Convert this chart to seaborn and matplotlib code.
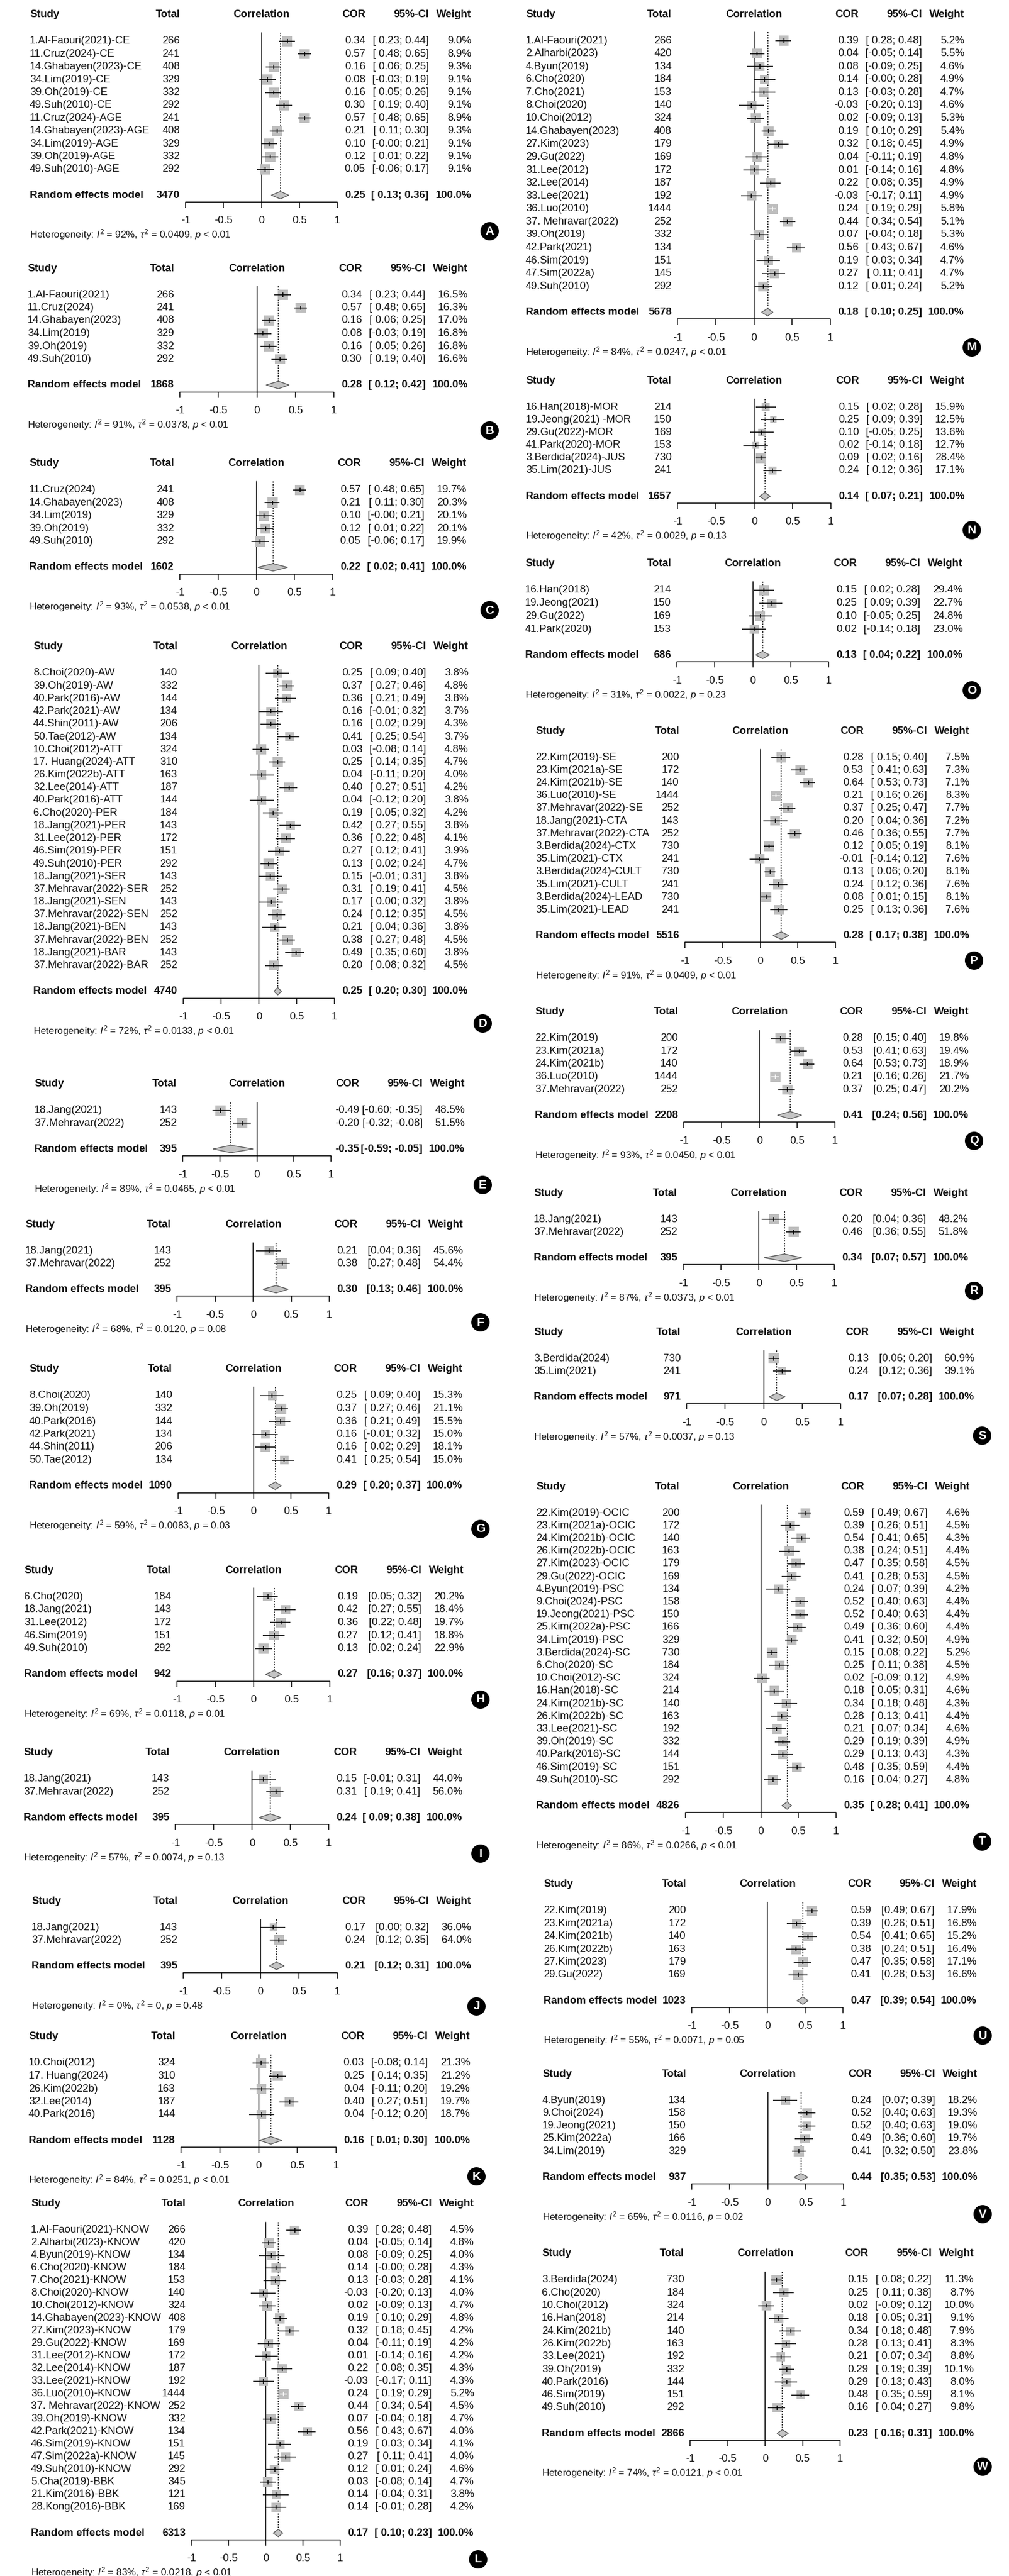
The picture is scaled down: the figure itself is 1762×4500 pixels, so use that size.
import numpy as np
import pandas as pd
import matplotlib
matplotlib.use("Agg")
import matplotlib.pyplot as plt
import seaborn as sns
from matplotlib.transforms import blended_transform_factory, IdentityTransform
from matplotlib.patches import Polygon, Circle

# ----------------------------- DATA -----------------------------
A_study = ["1.Al-Faouri(2021)-CE", "11.Cruz(2024)-CE", "14.Ghabayen(2023)-CE", "34.Lim(2019)-CE",
           "39.Oh(2019)-CE", "49.Suh(2010)-CE", "11.Cruz(2024)-AGE", "14.Ghabayen(2023)-AGE",
           "34.Lim(2019)-AGE", "39.Oh(2019)-AGE", "49.Suh(2010)-AGE"]
A_total = [266, 241, 408, 329, 332, 292, 241, 408, 329, 332, 292]
A_cor = [0.34, 0.57, 0.16, 0.08, 0.16, 0.30, 0.57, 0.21, 0.10, 0.12, 0.05]
A_lo = [0.23, 0.48, 0.06, -0.03, 0.05, 0.19, 0.48, 0.11, -0.004, 0.01, -0.06]
A_hi = [0.44, 0.65, 0.25, 0.19, 0.26, 0.40, 0.65, 0.30, 0.21, 0.22, 0.17]
A_weight = [9.0, 8.9, 9.3, 9.1, 9.1, 9.1, 8.9, 9.3, 9.1, 9.1, 9.1]
A_model = [3470, 0.25, 0.13, 0.36]
A_het = [92, 0.0409, "<", 0.01]

B_study = ["1.Al-Faouri(2021)", "11.Cruz(2024)", "14.Ghabayen(2023)", "34.Lim(2019)", "39.Oh(2019)", "49.Suh(2010)"]
B_total = [266, 241, 408, 329, 332, 292]
B_cor = [0.34, 0.57, 0.16, 0.08, 0.16, 0.30]
B_lo = [0.23, 0.48, 0.06, -0.03, 0.05, 0.19]
B_hi = [0.44, 0.65, 0.25, 0.19, 0.26, 0.40]
B_weight = [16.5, 16.3, 17.0, 16.8, 16.8, 16.6]
B_model = [1868, 0.28, 0.12, 0.42]
B_het = [91, 0.0378, "<", 0.01]

C_study = ["11.Cruz(2024)", "14.Ghabayen(2023)", "34.Lim(2019)", "39.Oh(2019)", "49.Suh(2010)"]
C_total = [241, 408, 329, 332, 292]
C_cor = [0.57, 0.21, 0.10, 0.12, 0.05]
C_lo = [0.48, 0.11, -0.004, 0.01, -0.06]
C_hi = [0.65, 0.30, 0.21, 0.22, 0.17]
C_weight = [19.7, 20.3, 20.1, 20.1, 19.9]
C_model = [1602, 0.22, 0.02, 0.41]
C_het = [93, 0.0538, "<", 0.01]

D_study = ["8.Choi(2020)-AW", "39.Oh(2019)-AW", "40.Park(2016)-AW", "42.Park(2021)-AW", "44.Shin(2011)-AW",
           "50.Tae(2012)-AW", "10.Choi(2012)-ATT", "17. Huang(2024)-ATT", "26.Kim(2022b)-ATT", "32.Lee(2014)-ATT",
           "40.Park(2016)-ATT", "6.Cho(2020)-PER", "18.Jang(2021)-PER", "31.Lee(2012)-PER", "46.Sim(2019)-PER",
           "49.Suh(2010)-PER", "18.Jang(2021)-SER", "37.Mehravar(2022)-SER", "18.Jang(2021)-SEN",
           "37.Mehravar(2022)-SEN", "18.Jang(2021)-BEN", "37.Mehravar(2022)-BEN", "18.Jang(2021)-BAR",
           "37.Mehravar(2022)-BAR"]
D_total = [140, 332, 144, 134, 206, 134, 324, 310, 163, 187, 144, 184, 143, 172, 151, 292, 143, 252, 143, 252,
           143, 252, 143, 252]
D_cor = [0.25, 0.37, 0.36, 0.16, 0.16, 0.41, 0.03, 0.25, 0.04, 0.40, 0.04, 0.19, 0.42, 0.36, 0.27, 0.13, 0.15,
         0.31, 0.17, 0.24, 0.21, 0.38, 0.49, 0.20]
D_lo = [0.09, 0.27, 0.21, -0.01, 0.02, 0.25, -0.08, 0.14, -0.11, 0.27, -0.12, 0.05, 0.27, 0.22, 0.12, 0.02, -0.01,
        0.19, 0.00, 0.12, 0.04, 0.27, 0.35, 0.08]
D_hi = [0.40, 0.46, 0.49, 0.32, 0.29, 0.54, 0.14, 0.35, 0.20, 0.51, 0.20, 0.32, 0.55, 0.48, 0.41, 0.24, 0.31,
        0.41, 0.32, 0.35, 0.36, 0.48, 0.60, 0.32]
D_weight = [3.8, 4.8, 3.8, 3.7, 4.3, 3.7, 4.8, 4.7, 4.0, 4.2, 3.8, 4.2, 3.8, 4.1, 3.9, 4.7, 3.8, 4.5, 3.8, 4.5,
            3.8, 4.5, 3.8, 4.5]
D_model = [4740, 0.25, 0.20, 0.30]
D_het = [72, 0.0133, "<", 0.01]

E_study = ["18.Jang(2021)", "37.Mehravar(2022)"]
E_total = [143, 252]
E_cor = [-0.49, -0.20]
E_lo = [-0.60, -0.32]
E_hi = [-0.35, -0.08]
E_weight = [48.5, 51.5]
E_model = [395, -0.35, -0.59, -0.05]
E_het = [89, 0.0465, "<", 0.01]

F_study = ["18.Jang(2021)", "37.Mehravar(2022)"]
F_total = [143, 252]
F_cor = [0.21, 0.38]
F_lo = [0.04, 0.27]
F_hi = [0.36, 0.48]
F_weight = [45.6, 54.4]
F_model = [395, 0.30, 0.13, 0.46]
F_het = [68, 0.0120, "=", 0.08]

G_study = ["8.Choi(2020)", "39.Oh(2019)", "40.Park(2016)", "42.Park(2021)", "44.Shin(2011)", "50.Tae(2012)"]
G_total = [140, 332, 144, 134, 206, 134]
G_cor = [0.25, 0.37, 0.36, 0.16, 0.16, 0.41]
G_lo = [0.09, 0.27, 0.21, -0.01, 0.02, 0.25]
G_hi = [0.40, 0.46, 0.49, 0.32, 0.29, 0.54]
G_weight = [15.3, 21.1, 15.5, 15.0, 18.1, 15.0]
G_model = [1090, 0.29, 0.20, 0.37]
G_het = [59, 0.0083, "=", 0.03]

H_study = ["6.Cho(2020)", "18.Jang(2021)", "31.Lee(2012)", "46.Sim(2019)", "49.Suh(2010)"]
H_total = [184, 143, 172, 151, 292]
H_cor = [0.19, 0.42, 0.36, 0.27, 0.13]
H_lo = [0.05, 0.27, 0.22, 0.12, 0.02]
H_hi = [0.32, 0.55, 0.48, 0.41, 0.24]
H_weight = [20.2, 18.4, 19.7, 18.8, 22.9]
H_model = [942, 0.27, 0.16, 0.37]
H_het = [69, 0.0118, "=", 0.01]

I_study = ["18.Jang(2021)", "37.Mehravar(2022)"]
I_total = [143, 252]
I_cor = [0.15, 0.31]
I_lo = [-0.01, 0.19]
I_hi = [0.31, 0.41]
I_weight = [44.0, 56.0]
I_model = [395, 0.24, 0.09, 0.38]
I_het = [57, 0.0074, "=", 0.13]

J_study = ["18.Jang(2021)", "37.Mehravar(2022)"]
J_total = [143, 252]
J_cor = [0.17, 0.24]
J_lo = [0.00, 0.12]
J_hi = [0.32, 0.35]
J_weight = [36.0, 64.0]
J_model = [395, 0.21, 0.12, 0.31]
J_het = [0, 0.0, "=", 0.48]

K_study = ["10.Choi(2012)", "17. Huang(2024)", "26.Kim(2022b)", "32.Lee(2014)", "40.Park(2016)"]
K_total = [324, 310, 163, 187, 144]
K_cor = [0.03, 0.25, 0.04, 0.40, 0.04]
K_lo = [-0.08, 0.14, -0.11, 0.27, -0.12]
K_hi = [0.14, 0.35, 0.20, 0.51, 0.20]
K_weight = [21.3, 21.2, 19.2, 19.7, 18.7]
K_model = [1128, 0.16, 0.01, 0.30]
K_het = [84, 0.0251, "<", 0.01]

L_study = ["1.Al-Faouri(2021)-KNOW", "2.Alharbi(2023)-KNOW", "4.Byun(2019)-KNOW", "6.Cho(2020)-KNOW",
           "7.Cho(2021)-KNOW", "8.Choi(2020)-KNOW", "10.Choi(2012)-KNOW", "14.Ghabayen(2023)-KNOW",
           "27.Kim(2023)-KNOW", "29.Gu(2022)-KNOW", "31.Lee(2012)-KNOW", "32.Lee(2014)-KNOW",
           "33.Lee(2021)-KNOW", "36.Luo(2010)-KNOW", "37. Mehravar(2022)-KNOW", "39.Oh(2019)-KNOW",
           "42.Park(2021)-KNOW", "46.Sim(2019)-KNOW", "47.Sim(2022a)-KNOW", "49.Suh(2010)-KNOW",
           "5.Cha(2019)-BBK", "21.Kim(2016)-BBK", "28.Kong(2016)-BBK"]
L_total = [266, 420, 134, 184, 153, 140, 324, 408, 179, 169, 172, 187, 192, 1444, 252, 332, 134, 151, 145, 292,
           345, 121, 169]
L_cor = [0.39, 0.04, 0.08, 0.14, 0.13, -0.03, 0.02, 0.19, 0.32, 0.04, 0.01, 0.22, -0.03, 0.24, 0.44, 0.07, 0.56,
         0.19, 0.27, 0.12, 0.03, 0.14, 0.14]
L_lo = [0.28, -0.05, -0.09, -0.004, -0.03, -0.20, -0.09, 0.10, 0.18, -0.11, -0.14, 0.08, -0.17, 0.19, 0.34, -0.04,
        0.43, 0.03, 0.11, 0.01, -0.08, -0.04, -0.01]
L_hi = [0.48, 0.14, 0.25, 0.28, 0.28, 0.13, 0.13, 0.29, 0.45, 0.19, 0.16, 0.35, 0.11, 0.29, 0.54, 0.18, 0.67,
        0.34, 0.41, 0.24, 0.14, 0.31, 0.28]
L_weight = [4.5, 4.8, 4.0, 4.3, 4.1, 4.0, 4.7, 4.8, 4.2, 4.2, 4.2, 4.3, 4.3, 5.2, 4.5, 4.7, 4.0, 4.1, 4.0, 4.6,
            4.7, 3.8, 4.2]
L_model = [6313, 0.17, 0.10, 0.23]
L_het = [83, 0.0218, "<", 0.01]

M_study = ["1.Al-Faouri(2021)", "2.Alharbi(2023)", "4.Byun(2019)", "6.Cho(2020)", "7.Cho(2021)", "8.Choi(2020)",
           "10.Choi(2012)", "14.Ghabayen(2023)", "27.Kim(2023)", "29.Gu(2022)", "31.Lee(2012)", "32.Lee(2014)",
           "33.Lee(2021)", "36.Luo(2010)", "37. Mehravar(2022)", "39.Oh(2019)", "42.Park(2021)", "46.Sim(2019)",
           "47.Sim(2022a)", "49.Suh(2010)"]
M_total = [266, 420, 134, 184, 153, 140, 324, 408, 179, 169, 172, 187, 192, 1444, 252, 332, 134, 151, 145, 292]
M_cor = [0.39, 0.04, 0.08, 0.14, 0.13, -0.03, 0.02, 0.19, 0.32, 0.04, 0.01, 0.22, -0.03, 0.24, 0.44, 0.07, 0.56,
         0.19, 0.27, 0.12]
M_lo = [0.28, -0.05, -0.09, -0.004, -0.03, -0.20, -0.09, 0.10, 0.18, -0.11, -0.14, 0.08, -0.17, 0.19, 0.34, -0.04,
        0.43, 0.03, 0.11, 0.01]
M_hi = [0.48, 0.14, 0.25, 0.28, 0.28, 0.13, 0.13, 0.29, 0.45, 0.19, 0.16, 0.35, 0.11, 0.29, 0.54, 0.18, 0.67,
        0.34, 0.41, 0.24]
M_weight = [5.2, 5.5, 4.6, 4.9, 4.7, 4.6, 5.3, 5.4, 4.9, 4.8, 4.8, 4.9, 4.9, 5.8, 5.1, 5.3, 4.6, 4.7, 4.7, 5.2]
M_model = [5678, 0.18, 0.10, 0.25]
M_het = [84, 0.0247, "<", 0.01]

N_study = ["16.Han(2018)-MOR", "19.Jeong(2021) -MOR", "29.Gu(2022)-MOR", "41.Park(2020)-MOR",
           "3.Berdida(2024)-JUS", "35.Lim(2021)-JUS"]
N_total = [214, 150, 169, 153, 730, 241]
N_cor = [0.15, 0.25, 0.10, 0.02, 0.09, 0.24]
N_lo = [0.02, 0.09, -0.05, -0.14, 0.02, 0.12]
N_hi = [0.28, 0.39, 0.25, 0.18, 0.16, 0.36]
N_weight = [15.9, 12.5, 13.6, 12.7, 28.4, 17.1]
N_model = [1657, 0.14, 0.07, 0.21]
N_het = [42, 0.0029, "=", 0.13]

O_study = ["16.Han(2018)", "19.Jeong(2021)", "29.Gu(2022)", "41.Park(2020)"]
O_total = [214, 150, 169, 153]
O_cor = [0.15, 0.25, 0.10, 0.02]
O_lo = [0.02, 0.09, -0.05, -0.14]
O_hi = [0.28, 0.39, 0.25, 0.18]
O_weight = [29.4, 22.7, 24.8, 23.0]
O_model = [686, 0.13, 0.04, 0.22]
O_het = [31, 0.0022, "=", 0.23]

P_study = ["22.Kim(2019)-SE", "23.Kim(2021a)-SE", "24.Kim(2021b)-SE", "36.Luo(2010)-SE", "37.Mehravar(2022)-SE",
           "18.Jang(2021)-CTA", "37.Mehravar(2022)-CTA", "3.Berdida(2024)-CTX", "35.Lim(2021)-CTX",
           "3.Berdida(2024)-CULT", "35.Lim(2021)-CULT", "3.Berdida(2024)-LEAD", "35.Lim(2021)-LEAD"]
P_total = [200, 172, 140, 1444, 252, 143, 252, 730, 241, 730, 241, 730, 241]
P_cor = [0.28, 0.53, 0.64, 0.21, 0.37, 0.20, 0.46, 0.12, -0.01, 0.13, 0.24, 0.08, 0.25]
P_lo = [0.15, 0.41, 0.53, 0.16, 0.25, 0.04, 0.36, 0.05, -0.14, 0.06, 0.12, 0.01, 0.13]
P_hi = [0.40, 0.63, 0.73, 0.26, 0.47, 0.36, 0.55, 0.19, 0.12, 0.20, 0.36, 0.15, 0.36]
P_weight = [7.5, 7.3, 7.1, 8.3, 7.7, 7.2, 7.7, 8.1, 7.6, 8.1, 7.6, 8.1, 7.6]
P_model = [5516, 0.28, 0.17, 0.38]
P_het = [91, 0.0409, "<", 0.01]

Q_study = ["22.Kim(2019)", "23.Kim(2021a)", "24.Kim(2021b)", "36.Luo(2010)", "37.Mehravar(2022)"]
Q_total = [200, 172, 140, 1444, 252]
Q_cor = [0.28, 0.53, 0.64, 0.21, 0.37]
Q_lo = [0.15, 0.41, 0.53, 0.16, 0.25]
Q_hi = [0.40, 0.63, 0.73, 0.26, 0.47]
Q_weight = [19.8, 19.4, 18.9, 21.7, 20.2]
Q_model = [2208, 0.41, 0.24, 0.56]
Q_het = [93, 0.0450, "<", 0.01]

R_study = ["18.Jang(2021)", "37.Mehravar(2022)"]
R_total = [143, 252]
R_cor = [0.20, 0.46]
R_lo = [0.04, 0.36]
R_hi = [0.36, 0.55]
R_weight = [48.2, 51.8]
R_model = [395, 0.34, 0.07, 0.57]
R_het = [87, 0.0373, "<", 0.01]

S_study = ["3.Berdida(2024)", "35.Lim(2021)"]
S_total = [730, 241]
S_cor = [0.13, 0.24]
S_lo = [0.06, 0.12]
S_hi = [0.20, 0.36]
S_weight = [60.9, 39.1]
S_model = [971, 0.17, 0.07, 0.28]
S_het = [57, 0.0037, "=", 0.13]

T_study = ["22.Kim(2019)-OCIC", "23.Kim(2021a)-OCIC", "24.Kim(2021b)-OCIC", "26.Kim(2022b)-OCIC",
           "27.Kim(2023)-OCIC", "29.Gu(2022)-OCIC", "4.Byun(2019)-PSC", "9.Choi(2024)-PSC", "19.Jeong(2021)-PSC",
           "25.Kim(2022a)-PSC", "34.Lim(2019)-PSC", "3.Berdida(2024)-SC", "6.Cho(2020)-SC", "10.Choi(2012)-SC",
           "16.Han(2018)-SC", "24.Kim(2021b)-SC", "26.Kim(2022b)-SC", "33.Lee(2021)-SC", "39.Oh(2019)-SC",
           "40.Park(2016)-SC", "46.Sim(2019)-SC", "49.Suh(2010)-SC"]
T_total = [200, 172, 140, 163, 179, 169, 134, 158, 150, 166, 329, 730, 184, 324, 214, 140, 163, 192, 332, 144,
           151, 292]
T_cor = [0.59, 0.39, 0.54, 0.38, 0.47, 0.41, 0.24, 0.52, 0.52, 0.49, 0.41, 0.15, 0.25, 0.02, 0.18, 0.34, 0.28,
         0.21, 0.29, 0.29, 0.48, 0.16]
T_lo = [0.49, 0.26, 0.41, 0.24, 0.35, 0.28, 0.07, 0.40, 0.40, 0.36, 0.32, 0.08, 0.11, -0.09, 0.05, 0.18, 0.13,
        0.07, 0.19, 0.13, 0.35, 0.04]
T_hi = [0.67, 0.51, 0.65, 0.51, 0.58, 0.53, 0.39, 0.63, 0.63, 0.60, 0.50, 0.22, 0.38, 0.12, 0.31, 0.48, 0.41,
        0.34, 0.39, 0.43, 0.59, 0.27]
T_weight = [4.6, 4.5, 4.3, 4.4, 4.5, 4.5, 4.2, 4.4, 4.4, 4.4, 4.9, 5.2, 4.5, 4.9, 4.6, 4.3, 4.4, 4.6, 4.9, 4.3,
            4.4, 4.8]
T_model = [4826, 0.35, 0.28, 0.41]
T_het = [86, 0.0266, "<", 0.01]

U_study = ["22.Kim(2019)", "23.Kim(2021a)", "24.Kim(2021b)", "26.Kim(2022b)", "27.Kim(2023)", "29.Gu(2022)"]
U_total = [200, 172, 140, 163, 179, 169]
U_cor = [0.59, 0.39, 0.54, 0.38, 0.47, 0.41]
U_lo = [0.49, 0.26, 0.41, 0.24, 0.35, 0.28]
U_hi = [0.67, 0.51, 0.65, 0.51, 0.58, 0.53]
U_weight = [17.9, 16.8, 15.2, 16.4, 17.1, 16.6]
U_model = [1023, 0.47, 0.39, 0.54]
U_het = [55, 0.0071, "=", 0.05]

V_study = ["4.Byun(2019)", "9.Choi(2024)", "19.Jeong(2021)", "25.Kim(2022a)", "34.Lim(2019)"]
V_total = [134, 158, 150, 166, 329]
V_cor = [0.24, 0.52, 0.52, 0.49, 0.41]
V_lo = [0.07, 0.40, 0.40, 0.36, 0.32]
V_hi = [0.39, 0.63, 0.63, 0.60, 0.50]
V_weight = [18.2, 19.3, 19.0, 19.7, 23.8]
V_model = [937, 0.44, 0.35, 0.53]
V_het = [65, 0.0116, "=", 0.02]

W_study = ["3.Berdida(2024)", "6.Cho(2020)", "10.Choi(2012)", "16.Han(2018)", "24.Kim(2021b)", "26.Kim(2022b)",
           "33.Lee(2021)", "39.Oh(2019)", "40.Park(2016)", "46.Sim(2019)", "49.Suh(2010)"]
W_total = [730, 184, 324, 214, 140, 163, 192, 332, 144, 151, 292]
W_cor = [0.15, 0.25, 0.02, 0.18, 0.34, 0.28, 0.21, 0.29, 0.29, 0.48, 0.16]
W_lo = [0.08, 0.11, -0.09, 0.05, 0.18, 0.13, 0.07, 0.19, 0.13, 0.35, 0.04]
W_hi = [0.22, 0.38, 0.12, 0.31, 0.48, 0.41, 0.34, 0.39, 0.43, 0.59, 0.27]
W_weight = [11.3, 8.7, 10.0, 9.1, 7.9, 8.3, 8.8, 10.1, 8.0, 8.1, 9.8]
W_model = [2866, 0.23, 0.16, 0.31]
W_het = [74, 0.0121, "<", 0.01]

TICK_VALUES = [-1, -0.5, 0, 0.5, 1]
TICK_LABELS = ["-1", "-0.5", "0", "0.5", "1"]

# ----------------------------- LAYOUT -----------------------------
# panel: (first-row y px, row spacing px, study x, axis -1 x, axis +1 x, badge x, badge y)
LAYOUT = {
    "A": (72, 22.4, 52, 324, 589, 855, 404),
    "B": (515, 22.5, 48, 314, 583, 855, 752),
    "C": (856, 22.5, 51, 314, 581, 855, 1066),
    "D": (1176, 22.2, 58, 320, 584, 843, 1788),
    "E": (1940, 22.2, 60, 319, 578, 843, 2070),
    "F": (2185, 22.2, 44, 309, 575, 839, 2310),
    "G": (2438, 22.5, 51, 311, 574, 839, 2671),
    "H": (2789, 22.7, 42, 309, 576, 839, 2969),
    "I": (3108, 22.2, 41, 306, 574, 839, 3238),
    "J": (3367, 22.2, 55, 320, 589, 832, 3505),
    "K": (3604, 22.5, 50, 316, 587, 832, 3802),
    "L": (3896, 22.0, 54, 334, 594, 835, 4471),
    "M": (71, 22.6, 918, 1183, 1450, 1697, 607),
    "N": (711, 22.2, 918, 1183, 1451, 1697, 926),
    "O": (1031, 22.7, 917, 1182, 1447, 1697, 1206),
    "P": (1323, 22.2, 935, 1196, 1459, 1701, 1678),
    "Q": (1814, 22.3, 934, 1194, 1458, 1701, 1993),
    "R": (2130, 22.2, 932, 1193, 1457, 1701, 2255),
    "S": (2373, 22.2, 932, 1199, 1468, 1715, 2508),
    "T": (2643, 22.2, 936, 1197, 1460, 1715, 3217),
    "U": (3338, 22.4, 949, 1208, 1472, 1716, 3556),
    "V": (3669, 22.3, 947, 1208, 1473, 1716, 3868),
    "W": (3983, 22.3, 946, 1205, 1467, 1716, 4309),
}

PANELS = {
    "A": (A_study, A_total, A_cor, A_lo, A_hi, A_weight, A_model, A_het),
    "B": (B_study, B_total, B_cor, B_lo, B_hi, B_weight, B_model, B_het),
    "C": (C_study, C_total, C_cor, C_lo, C_hi, C_weight, C_model, C_het),
    "D": (D_study, D_total, D_cor, D_lo, D_hi, D_weight, D_model, D_het),
    "E": (E_study, E_total, E_cor, E_lo, E_hi, E_weight, E_model, E_het),
    "F": (F_study, F_total, F_cor, F_lo, F_hi, F_weight, F_model, F_het),
    "G": (G_study, G_total, G_cor, G_lo, G_hi, G_weight, G_model, G_het),
    "H": (H_study, H_total, H_cor, H_lo, H_hi, H_weight, H_model, H_het),
    "I": (I_study, I_total, I_cor, I_lo, I_hi, I_weight, I_model, I_het),
    "J": (J_study, J_total, J_cor, J_lo, J_hi, J_weight, J_model, J_het),
    "K": (K_study, K_total, K_cor, K_lo, K_hi, K_weight, K_model, K_het),
    "L": (L_study, L_total, L_cor, L_lo, L_hi, L_weight, L_model, L_het),
    "M": (M_study, M_total, M_cor, M_lo, M_hi, M_weight, M_model, M_het),
    "N": (N_study, N_total, N_cor, N_lo, N_hi, N_weight, N_model, N_het),
    "O": (O_study, O_total, O_cor, O_lo, O_hi, O_weight, O_model, O_het),
    "P": (P_study, P_total, P_cor, P_lo, P_hi, P_weight, P_model, P_het),
    "Q": (Q_study, Q_total, Q_cor, Q_lo, Q_hi, Q_weight, Q_model, Q_het),
    "R": (R_study, R_total, R_cor, R_lo, R_hi, R_weight, R_model, R_het),
    "S": (S_study, S_total, S_cor, S_lo, S_hi, S_weight, S_model, S_het),
    "T": (T_study, T_total, T_cor, T_lo, T_hi, T_weight, T_model, T_het),
    "U": (U_study, U_total, U_cor, U_lo, U_hi, U_weight, U_model, U_het),
    "V": (V_study, V_total, V_cor, V_lo, V_hi, V_weight, V_model, V_het),
    "W": (W_study, W_total, W_cor, W_lo, W_hi, W_weight, W_model, W_het),
}

# ----------------------------- STYLE -----------------------------
sns.set_theme(style="white")
plt.rcParams["font.family"] = ["Liberation Sans", "DejaVu Sans"]
plt.rcParams["mathtext.fontset"] = "custom"
plt.rcParams["mathtext.rm"] = "Liberation Sans"
plt.rcParams["mathtext.it"] = "Liberation Sans:italic"
plt.rcParams["mathtext.bf"] = "Liberation Sans:bold"

WPX, HPX = 1762, 4500
FS = 13.3
FS_HET = 12.3
SQ_MAX = 18.0
SQ_COLOR = "#BEBEBE"
LW = 1.1

fig = plt.figure(figsize=(WPX / 100, HPX / 100), dpi=100)
fig.patch.set_facecolor("white")


def fmt_ci(lo, hi, pad_lo, pad_hi):
    a = f"{lo:.2f}"
    b = f"{hi:.2f}"
    if pad_lo and not a.startswith("-"):
        a = " " + a
    if pad_hi and not b.startswith("-"):
        b = " " + b
    return f"[{a}; {b}]"


for key, (study, total, cor, lo, hi, weight, model, het) in PANELS.items():
    y1, sp, xs, x0, x1, bx, by = LAYOUT[key]
    n = len(study)
    top_r, bot_r = -3.0, n + 4.5
    ax = fig.add_axes([x0 / WPX, 1 - (y1 + bot_r * sp) / HPX,
                       (x1 - x0) / WPX, (bot_r - top_r) * sp / HPX])
    ax.axis("off")
    blend = blended_transform_factory(IdentityTransform(), ax.transData)
    ppu = (x1 - x0) / 2.0  # pixels per correlation unit

    rows = np.arange(n)
    w = np.array(weight, dtype=float)
    side = SQ_MAX * np.sqrt(w / w.max())
    c = np.array(cor)
    l = np.array(lo)
    h = np.array(hi)
    inside = ((c - l) * ppu < side / 2) & ((h - c) * ppu < side / 2)
    line_cols = ["white" if ins else "black" for ins in inside]

    df = pd.DataFrame({"cor": cor, "row": rows})
    sns.scatterplot(data=df, x="cor", y="row", marker="s", s=(side * 0.72) ** 2,
                    color=SQ_COLOR, edgecolor="none", linewidth=0, legend=False, ax=ax, zorder=2)
    ax.hlines(rows, l, h, colors=line_cols, lw=LW, zorder=3)
    ax.vlines(c, rows - 0.17, rows + 0.17, colors=line_cols, lw=LW, zorder=3)

    m_total, m_cor, m_lo, m_hi = model
    y_re = (n - 1) + 45.0 / sp
    dh = 6.5 / sp
    y_ax = y_re + 12.0 / sp
    top_line = -0.65

    ax.add_patch(Polygon([[m_lo, y_re], [m_cor, y_re - dh], [m_hi, y_re], [m_cor, y_re + dh]],
                         closed=True, fc="#C4C4C4", ec="#5A5A5A", lw=1.0, zorder=3))
    ax.plot([0, 0], [top_line, y_ax], color="black", lw=LW, zorder=1)
    ax.plot([m_cor, m_cor], [top_line, y_re - dh], color="black", lw=LW,
            ls=(0, (1.5, 1.5)), zorder=1)

    # x axis
    ax.plot([-1, 1], [y_ax, y_ax], color="black", lw=LW, clip_on=False)
    ax.vlines(TICK_VALUES, y_ax, y_ax + 10.0 / sp, colors="black", lw=LW, clip_on=False)
    for tv, tl in zip(TICK_VALUES, TICK_LABELS):
        ax.text(tv, y_ax + 33.0 / sp, tl, ha="center", va="center", fontsize=FS, color="#111111")

    ax.set_xlim(-1, 1)
    ax.set_ylim(bot_r, top_r)

    # header
    yh = -46.0 / sp
    hd = dict(fontsize=FS, fontweight="bold", va="center", color="#111111")
    ax.text(xs, yh, "Study", ha="left", transform=blend, **hd)
    ax.text(x0 - 10, yh, "Total", ha="right", transform=blend, **hd)
    ax.text(0, yh, "Correlation", ha="center", **hd)
    ax.text(x1 + 49, yh, "COR", ha="right", transform=blend, **hd)
    ax.text(x1 + 160, yh, "95%-CI", ha="right", transform=blend, **hd)
    ax.text(x1 + 234, yh, "Weight", ha="right", transform=blend, **hd)

    pad_lo = any(f"{v:.2f}".startswith("-") for v in list(lo) + [m_lo])
    pad_hi = any(f"{v:.2f}".startswith("-") for v in list(hi) + [m_hi])

    tx = dict(fontsize=FS, va="center", color="#111111", transform=blend)
    for r in range(n):
        ax.text(xs, r, study[r], ha="left", **tx)
        ax.text(x0 - 10, r, str(total[r]), ha="right", **tx)
        ax.text(x1 + 49, r, f"{cor[r]:.2f}", ha="right", **tx)
        ax.text(x1 + 160, r, fmt_ci(lo[r], hi[r], pad_lo, pad_hi), ha="right", **tx)
        ax.text(x1 + 234, r, f"{weight[r]:.1f}%", ha="right", **tx)

    bx_kw = dict(tx, fontweight="bold")
    ax.text(xs, y_re, "Random effects model", ha="left", **bx_kw)
    ax.text(x0 - 10, y_re, str(m_total), ha="right", **bx_kw)
    ax.text(x1 + 49, y_re, f"{m_cor:.2f}", ha="right", **bx_kw)
    ax.text(x1 + 160, y_re, fmt_ci(m_lo, m_hi, pad_lo, pad_hi), ha="right", **bx_kw)
    ax.text(x1 + 234, y_re, "100.0%", ha="right", **bx_kw)

    i2, tau2, op, pval = het
    tau_s = "0" if tau2 == 0 else f"{tau2:.4f}"
    het_s = (f"Heterogeneity: $I^2$ = {i2}%, $\\tau^2$ = {tau_s}, "
             f"$p$ {op} {pval:.2f}")
    ax.text(xs, y_ax + 57.0 / sp, het_s, ha="left", va="center", fontsize=FS_HET,
            color="#111111", transform=blend)

    # panel badge
    fig.add_artist(Circle((bx, HPX - by), 16, transform=IdentityTransform(),
                          facecolor="black", edgecolor="none"))
    fig.text(bx, HPX - by, key, transform=IdentityTransform(), ha="center", va="center",
             fontsize=15, fontweight="bold", color="white")

fig.savefig("out.png", dpi=100, facecolor="white")
